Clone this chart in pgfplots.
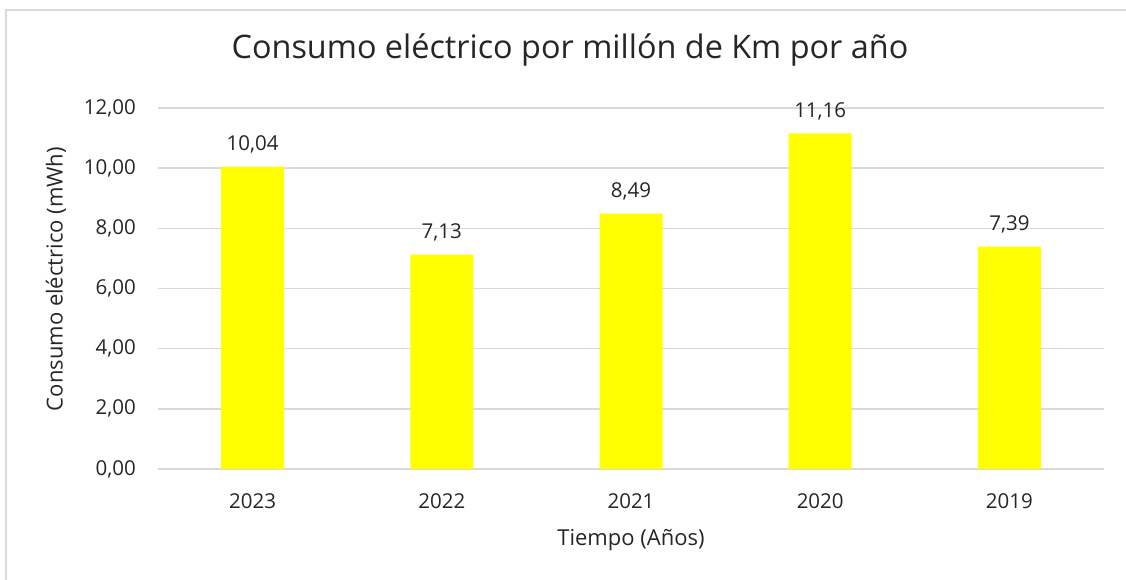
\documentclass[border=0pt]{standalone}
\usepackage{pgfplots}
\pgfplotsset{compat=1.18}
\usepackage{fontspec}
\setmainfont{Open Sans}
\definecolor{txt}{HTML}{262626}
\definecolor{grid}{HTML}{D9D9D9}
\definecolor{bar}{HTML}{FFFF00}
\begin{document}
\begin{tikzpicture}[x=1pt,y=1pt]
\useasboundingbox (0,0) rectangle (1126,580);
\draw[color=grid, line width=1.5pt] (6,-5) -- (6,570) -- (1131,570);
\begin{axis}[
  at={(158pt,111pt)}, anchor=south west,
  scale only axis, width=946pt, height=361pt,
  xmin=-0.5, xmax=4.5, ymin=0, ymax=12,
  xtick=data, xticklabels={2023,2022,2021,2020,2019},
  ytick={0,2,4,6,8,10,12},
  ymajorgrids, major grid style={draw=grid, line width=1.5pt},
  axis line style={draw=none},
  major tick length=0pt,
  /pgf/number format/.cd, fixed, fixed zerofill, precision=2, use comma, assume math mode=true,
  /pgfplots/.cd,
  tick label style={font=\fontsize{20.5}{25}\selectfont, text=txt, inner sep=0pt},
  yticklabel style={anchor=east, xshift=-22pt},
  xticklabel style={anchor=north, yshift=-24pt},
  title={Consumo eléctrico por millón de Km por año},
  title style={font=\fontsize{32.4}{40}\selectfont, text=txt, at={(axis description cs:0.4355,1.143)}, anchor=center, inner sep=0pt},
  xlabel={Tiempo (Años)},
  xlabel style={font=\fontsize{22}{27}\selectfont, text=txt, at={(axis description cs:0.5,-0.197)}, anchor=center, inner sep=0pt},
  ylabel={Consumo eléctrico (mWh)},
  ylabel style={font=\fontsize{22}{27}\selectfont, text=txt, at={(axis description cs:-0.108,0.526)}, anchor=center, inner sep=0pt},
  nodes near coords,
  every node near coord/.append style={font=\fontsize{20.5}{25}\selectfont, text=txt, anchor=base, inner sep=0pt, yshift=16pt},
]
\addplot[ybar, bar width=63pt, fill=bar, draw=none] coordinates {(0,10.04) (1,7.13) (2,8.49) (3,11.16) (4,7.39)};
\end{axis}
\end{tikzpicture}
\end{document}
